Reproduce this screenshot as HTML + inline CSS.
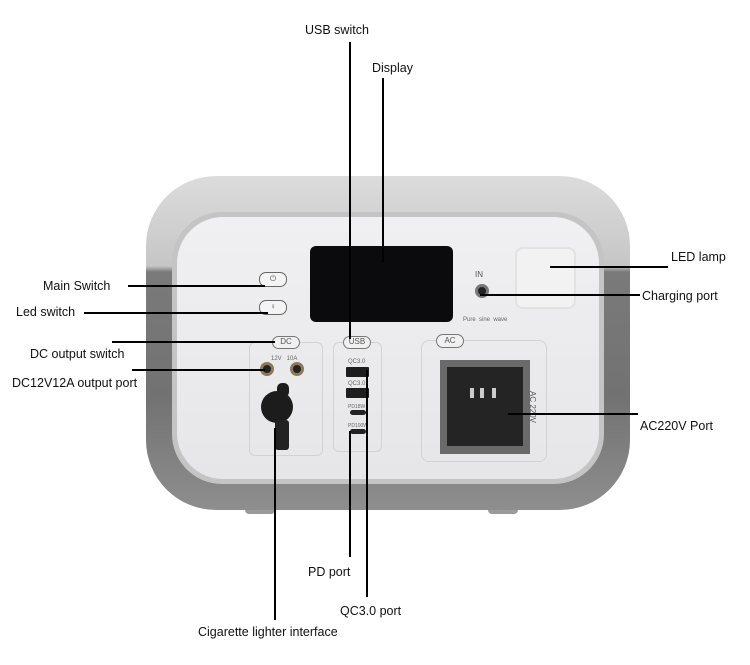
<!DOCTYPE html>
<html><head><style>
body{margin:0;width:750px;height:665px;background:#fff;position:relative;overflow:hidden;font-family:"Liberation Sans",sans-serif;}
div{position:absolute;box-sizing:border-box;}
.t{font-size:12.5px;color:#111;white-space:nowrap;line-height:14px;}
.h{height:2px;background:#000;}
.v{width:2px;background:#000;}
</style></head><body>
<div style="left:245px;top:500px;width:30px;height:14px;background:#9a9a9a;border-radius:4px"></div>
<div style="left:488px;top:500px;width:30px;height:14px;background:#9a9a9a;border-radius:4px"></div>
<div style="left:146px;top:176px;width:484px;height:334px;border-radius:70px;background:linear-gradient(#dcdcdc 0px,#c6c6c6 90px,#7a7a7a 96px,#727272 220px,#8e8e8e 334px);"></div>
<div style="left:172px;top:212px;width:432px;height:272px;border-radius:50px;background:#c4c4c4"></div>
<div style="left:177px;top:217px;width:422px;height:262px;border-radius:46px;background:linear-gradient(#f0f0f2,#e6e6e8)"></div>
<div style="left:310px;top:246px;width:143px;height:76px;background:#0b0b0d;border-radius:6px"></div>
<div style="left:515px;top:247px;width:61px;height:62px;border:2px solid #e2e2e2;border-radius:8px;background:#f2f2f2"></div>
<div class="t" style="left:475px;top:268px;font-size:8px;color:#555">IN</div>
<div style="left:475px;top:284px;width:14px;height:14px;border-radius:50%;background:#222;border:3px solid #777"></div>
<div class="t" style="left:463px;top:313px;font-size:6px;color:#666">Pure&nbsp;&nbsp;sine&nbsp;&nbsp;wave</div>
<div style="left:259px;top:272px;width:28px;height:15px;border:1.5px solid #666;border-radius:7px;background:#f4f4f4;font-size:8px;text-align:center;line-height:12px;color:#555">⏻</div>
<div style="left:259px;top:300px;width:28px;height:15px;border:1.5px solid #666;border-radius:7px;background:#f4f4f4;font-size:8px;text-align:center;line-height:12px;color:#555">♀</div>
<div style="left:249px;top:342px;width:74px;height:114px;border:1.5px solid #d2d2d2;border-radius:6px"></div>
<div style="left:272px;top:336px;width:28px;height:13px;border:1.5px solid #777;border-radius:7px;background:#f0f0f0;font-size:8px;text-align:center;line-height:10px;color:#555">DC</div>
<div class="t" style="left:271px;top:352px;font-size:6px;color:#666">12V&nbsp;&nbsp;&nbsp;10A</div>
<div style="left:260px;top:362px;width:14px;height:14px;border-radius:50%;background:#222;border:3px solid #8a7a55"></div>
<div style="left:290px;top:362px;width:14px;height:14px;border-radius:50%;background:#222;border:3px solid #8a7a55"></div>
<div style="left:261px;top:391px;width:32px;height:32px;border-radius:50%;background:#1c1c1c"></div>
<div style="left:277px;top:383px;width:12px;height:14px;border-radius:5px;background:#1c1c1c"></div>
<div style="left:275px;top:420px;width:14px;height:30px;border-radius:3px;background:#222"></div>
<div style="left:333px;top:342px;width:49px;height:110px;border:1.5px solid #d2d2d2;border-radius:6px"></div>
<div style="left:343px;top:336px;width:28px;height:13px;border:1.5px solid #777;border-radius:7px;background:#f0f0f0;font-size:8px;text-align:center;line-height:10px;color:#555">USB</div>
<div class="t" style="left:348px;top:355px;font-size:6px;color:#666">QC3.0</div>
<div style="left:346px;top:367px;width:23px;height:10px;background:#1e1e1e;border-radius:1px"></div>
<div class="t" style="left:348px;top:377px;font-size:6px;color:#666">QC3.0</div>
<div style="left:346px;top:388px;width:23px;height:10px;background:#1e1e1e;border-radius:1px"></div>
<div class="t" style="left:348px;top:400px;font-size:5px;color:#666">PD18W</div>
<div style="left:350px;top:410px;width:16px;height:5px;background:#222;border-radius:3px"></div>
<div class="t" style="left:348px;top:419px;font-size:5px;color:#666">PD100W</div>
<div style="left:350px;top:429px;width:16px;height:5px;background:#222;border-radius:3px"></div>
<div style="left:421px;top:340px;width:126px;height:122px;border:1.5px solid #d2d2d2;border-radius:8px"></div>
<div style="left:436px;top:334px;width:28px;height:14px;border:1.5px solid #777;border-radius:7px;background:#f0f0f0;font-size:8px;text-align:center;line-height:11px;color:#555">AC</div>
<div style="left:440px;top:360px;width:90px;height:94px;background:#6a6a6a"></div>
<div style="left:447px;top:367px;width:76px;height:79px;background:#242424"></div>
<div style="left:470px;top:388px;width:4px;height:10px;background:#ccc"></div>
<div style="left:480px;top:388px;width:4px;height:10px;background:#ccc"></div>
<div style="left:492px;top:388px;width:4px;height:10px;background:#ccc"></div>
<div class="t" style="left:516px;top:400px;font-size:8px;color:#555;transform:rotate(90deg)">AC 220V</div>
<div class="v" style="left:349px;top:42px;height:297px"></div>
<div class="v" style="left:382px;top:78px;height:184px"></div>
<div class="h" style="left:128px;top:285px;width:137px"></div>
<div class="h" style="left:84px;top:312px;width:184px"></div>
<div class="h" style="left:112px;top:341px;width:163px"></div>
<div class="h" style="left:132px;top:369px;width:133px"></div>
<div class="v" style="left:274px;top:428px;height:192px"></div>
<div class="v" style="left:349px;top:431px;height:126px"></div>
<div class="v" style="left:366px;top:370px;height:227px"></div>
<div class="h" style="left:550px;top:266px;width:118px"></div>
<div class="h" style="left:480px;top:294px;width:160px"></div>
<div class="h" style="left:508px;top:413px;width:130px"></div>
<div class="t" style="left:305px;top:23px">USB switch</div>
<div class="t" style="left:372px;top:61px">Display</div>
<div class="t" style="left:43px;top:279px">Main Switch</div>
<div class="t" style="left:16px;top:305px">Led switch</div>
<div class="t" style="left:30px;top:347px">DC output switch</div>
<div class="t" style="left:12px;top:376px">DC12V12A output port</div>
<div class="t" style="left:671px;top:250px">LED lamp</div>
<div class="t" style="left:642px;top:289px">Charging port</div>
<div class="t" style="left:640px;top:419px">AC220V Port</div>
<div class="t" style="left:308px;top:565px">PD port</div>
<div class="t" style="left:340px;top:604px">QC3.0 port</div>
<div class="t" style="left:198px;top:625px">Cigarette lighter interface</div>
</body></html>
